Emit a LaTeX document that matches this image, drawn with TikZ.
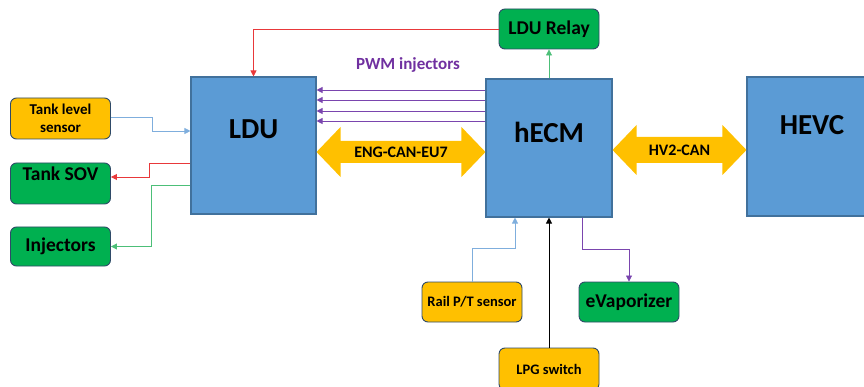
\documentclass[tikz,border=0pt]{standalone}
\usepackage{fontspec}
\setmainfont{Carlito}
\usetikzlibrary{arrows.meta,calc}
\definecolor{ecublue}{HTML}{5B9BD5}
\definecolor{ecuedge}{HTML}{41719C}
\definecolor{sensor}{HTML}{FFC000}
\definecolor{actuator}{HTML}{00B050}
\definecolor{roundedge}{HTML}{2F4A68}
\definecolor{canfill}{HTML}{FFC000}
\definecolor{wireblue}{HTML}{7FAEDD}
\definecolor{wirered}{HTML}{E8383A}
\definecolor{wiregreen}{HTML}{4CBF78}
\definecolor{wirepurple}{HTML}{7A45AE}
\definecolor{pwmtext}{HTML}{7030A0}
\tikzset{
  ecu/.style={draw=ecuedge, line width=1.1pt, fill=ecublue, inner sep=0pt},
  ecutext/.style={font=\bfseries\fontsize{29}{32}\selectfont, anchor=center},
  sensorbox/.style={draw=roundedge, line width=0.9pt, fill=sensor, rounded corners=6pt,
    minimum width=100pt, minimum height=40pt, align=center, inner sep=1pt,
    font=\bfseries\fontsize{14.5}{18}\selectfont},
  actfont/.style={font=\bfseries\fontsize{19.5}{22}\selectfont},
  actbox/.style={draw=roundedge, line width=0.9pt, fill=actuator, rounded corners=6pt,
    minimum width=100pt, minimum height=40pt, align=center, inner sep=1pt, actfont},
  wire/.style={line width=0.8pt, -{Triangle[length=6pt,width=6pt]}},
  canlabel/.style={font=\bfseries\fontsize{16}{18}\selectfont},
}
\begin{document}
\begin{tikzpicture}[x=1pt,y=-1pt]
\useasboundingbox (0,0) rectangle (864,387);

% control units
\node[ecu, minimum width=125pt, minimum height=137pt,
      label={[ecutext, yshift=16.5pt]center:LDU}] (ldu) at (253.5,145.5) {};
\node[ecu, minimum width=126pt, minimum height=138pt,
      label={[ecutext, yshift=16pt]center:hECM}] (hecm) at (549,148) {};
\node[ecu, minimum width=130pt, minimum height=139pt,
      label={[ecutext, yshift=21.5pt]center:HEVC}] (hevc) at (812,146.5) {};

% sensors and actuators
\node[sensorbox, minimum height=41pt, font=\bfseries\fontsize{15}{18}\selectfont]
      (tls) at (60.5,118.5) {Tank level\\sensor};
\node[actbox, minimum height=41pt,
      label={[actfont, anchor=center, yshift=-11pt]north:Tank SOV}]
      (sov) at (60.5,183.5) {};
\node[actbox, minimum height=39pt] (inj) at (60.5,246.5) {Injectors};
\node[actbox] (relay) at (549,29) {LDU Relay};
\node[sensorbox] (rail) at (472,302) {Rail P/T sensor};
\node[actbox] (evap) at (629,302) {eVaporizer};
\node[sensorbox, minimum height=42pt] (lpg) at (549,369) {LPG switch};

% CAN links
\coordinate (e1) at (ldu.east |- 0,152);
\coordinate (e2) at (hecm.west |- 0,152);
\fill[canfill] (e1) -- ++(24,-25) -- ++(0,14) -- ($(e2)+(-24,-11)$) -- ++(0,-14) -- (e2)
  -- ++(-24,25) -- ++(0,-14) -- ($(e1)+(24,11)$) -- ++(0,14) -- cycle;
\node[canlabel] (englabel) at ($(e1)!0.5!(e2)$) {ENG-CAN-EU7};

\coordinate (h1) at (hecm.east |- 0,150);
\coordinate (h2) at (hevc.west |- 0,150);
\fill[canfill] (h1) -- ++(24,-25) -- ++(0,12) -- ($(h2)+(-24,-13)$) -- ++(0,-12) -- (h2)
  -- ++(-24,25) -- ++(0,-12) -- ($(h1)+(24,13)$) -- ++(0,12) -- cycle;
\node[canlabel] (hvlabel) at ($(h1)!0.5!(h2)$) {HV2-CAN};

% LDU wiring
\draw[wire, wireblue] ([yshift=1.5pt]tls.east) -- ++(41,0) |- (ldu.west |- 0,131);
\draw[wire, wirered] (ldu.west |- 0,163) -- ++(-41,0) |- ([yshift=6.5pt]sov.east);
\draw[wire, wiregreen] (ldu.west |- 0,185) -- ++(-39,0) |- (inj.east);
\draw[wire, wirered] (relay.west) -| (ldu.north);
\draw[wire, wiregreen] (hecm.north) -- (relay.south);

% PWM injector lines
\foreach \y in {90,100,111,121}
  \draw[wire, wirepurple] (hecm.west |- 0,\y) -- (ldu.east |- 0,\y);
\node[font=\bfseries\fontsize{17}{19}\selectfont, text=pwmtext] (pwm) at (408,65) {PWM injectors};

% hECM I/O
\draw[wire, wireblue] (rail.north) -- ++(0,-33) -| ([xshift=-34pt]hecm.south);
\draw[wire, black] (lpg.north) -- (hecm.south);
\draw[wire, wirepurple] ([xshift=33pt]hecm.south) -- ++(0,32) -| (evap.north);
\end{tikzpicture}
\end{document}
